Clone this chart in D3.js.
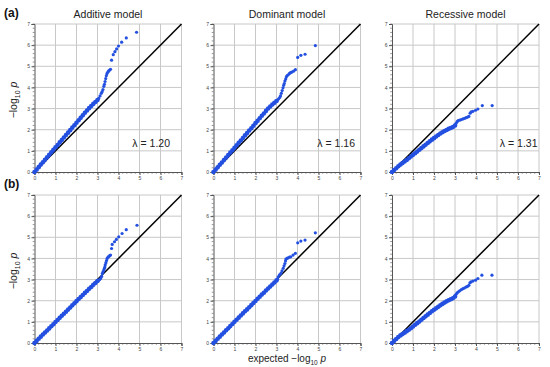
<!DOCTYPE html>
<html>
<head>
<meta charset="utf-8">
<script src="https://cdn.jsdelivr.net/npm/d3@7"></script>
<style>
  body { margin: 0; background: #fff; }
  svg { display: block; font-family: "Liberation Sans", Arial, sans-serif; }
</style>
</head>
<body>
<div id="grafico"></div>
<script>
// expected -log10 p for the dense body of each QQ plot
const bodyExpected = [0.0, 0.1, 0.2, 0.3, 0.4, 0.5, 0.6, 0.7, 0.8, 0.9, 1.0, 1.1, 1.2, 1.3, 1.4, 1.5,
  1.6, 1.7, 1.8, 1.9, 2.0, 2.1, 2.2, 2.3, 2.4, 2.5, 2.6, 2.7, 2.8, 2.9, 3.0];

// observed -log10 p, row (a)
const additiveA = [0.00, 0.11, 0.23, 0.35, 0.46, 0.58, 0.70, 0.81, 0.93, 1.05, 1.17, 1.28, 1.40, 1.51, 1.63, 1.75,
  1.86, 1.98, 2.10, 2.21, 2.33, 2.45, 2.56, 2.68, 2.80, 2.91, 3.02, 3.12, 3.22, 3.31, 3.40];
const dominantA = [0.00, 0.11, 0.22, 0.34, 0.45, 0.57, 0.68, 0.80, 0.92, 1.03, 1.15, 1.26, 1.38, 1.49, 1.61, 1.73,
  1.84, 1.96, 2.07, 2.19, 2.31, 2.42, 2.54, 2.66, 2.77, 2.89, 3.00, 3.10, 3.19, 3.27, 3.36];
const recessiveA = [0.00, 0.09, 0.18, 0.27, 0.35, 0.42, 0.50, 0.57, 0.65, 0.73, 0.81, 0.89, 0.97, 1.05, 1.13, 1.21,
  1.29, 1.37, 1.45, 1.53, 1.60, 1.68, 1.75, 1.82, 1.88, 1.94, 1.99, 2.04, 2.08, 2.13, 2.20];

// observed -log10 p, row (b)
const additiveB = [0.00, 0.10, 0.20, 0.30, 0.40, 0.50, 0.59, 0.69, 0.79, 0.89, 0.99, 1.09, 1.19, 1.29, 1.38, 1.48,
  1.58, 1.68, 1.78, 1.88, 1.98, 2.08, 2.17, 2.27, 2.37, 2.46, 2.56, 2.65, 2.75, 2.84, 2.93];
const dominantB = [0.00, 0.10, 0.20, 0.30, 0.40, 0.50, 0.60, 0.70, 0.80, 0.90, 1.00, 1.10, 1.20, 1.30, 1.40, 1.50,
  1.59, 1.69, 1.79, 1.89, 1.99, 2.09, 2.19, 2.29, 2.38, 2.48, 2.58, 2.67, 2.77, 2.86, 2.96];
const recessiveB = [0.00, 0.10, 0.19, 0.28, 0.36, 0.42, 0.49, 0.56, 0.63, 0.70, 0.78, 0.86, 0.94, 1.02, 1.10, 1.18,
  1.26, 1.34, 1.42, 1.50, 1.57, 1.64, 1.71, 1.78, 1.85, 1.91, 1.97, 2.02, 2.07, 2.12, 2.20];

// upper tails: [expected, observed]
const additiveATail = [[3.06, 3.48], [3.12, 3.60], [3.18, 3.72], [3.22, 3.80], [3.26, 3.90], [3.30, 4.05], [3.33, 4.15],
  [3.36, 4.28], [3.39, 4.42], [3.42, 4.55], [3.45, 4.65], [3.49, 4.72], [3.53, 4.78], [3.58, 4.82], [3.62, 4.86],
  [3.67, 5.29], [3.75, 5.55], [3.83, 5.69], [3.91, 5.82], [4.00, 5.96], [4.15, 6.14], [4.37, 6.34], [4.86, 6.61]];
const dominantATail = [[3.05, 3.40], [3.10, 3.46], [3.15, 3.52], [3.19, 3.60], [3.23, 3.72], [3.27, 3.85], [3.31, 3.98],
  [3.34, 4.10], [3.37, 4.18], [3.40, 4.30], [3.44, 4.40], [3.47, 4.50], [3.51, 4.56], [3.56, 4.60], [3.62, 4.66],
  [3.67, 4.70], [3.72, 4.72], [3.81, 4.77], [3.90, 4.84], [4.01, 5.42], [4.16, 5.52], [4.36, 5.57], [4.85, 5.98]];
const recessiveATail = [[3.05, 2.30], [3.10, 2.38], [3.15, 2.43], [3.22, 2.45], [3.30, 2.48], [3.38, 2.51], [3.46, 2.54],
  [3.53, 2.57], [3.60, 2.60], [3.66, 2.63], [3.72, 2.78], [3.77, 2.84], [3.85, 2.87], [3.98, 2.92], [4.09, 2.98],
  [4.30, 3.14], [4.77, 3.14]];
const additiveBTail = [[3.05, 2.97], [3.10, 3.00], [3.15, 3.05], [3.20, 3.15], [3.23, 3.29], [3.27, 3.38], [3.30, 3.45],
  [3.33, 3.53], [3.35, 3.60], [3.37, 3.70], [3.40, 3.80], [3.43, 3.90], [3.46, 4.00], [3.50, 4.06], [3.54, 4.09],
  [3.58, 4.13], [3.62, 4.16], [3.67, 4.47], [3.70, 4.66], [3.81, 4.79], [3.90, 4.90], [4.01, 5.02], [4.17, 5.18],
  [4.37, 5.36], [4.88, 5.57]];
const dominantBTail = [[3.05, 3.02], [3.08, 3.13], [3.14, 3.22], [3.21, 3.29], [3.26, 3.41], [3.32, 3.53], [3.36, 3.65],
  [3.40, 3.76], [3.43, 3.88], [3.45, 3.97], [3.50, 4.00], [3.55, 4.03], [3.62, 4.06], [3.68, 4.08], [3.79, 4.16],
  [3.90, 4.24], [4.01, 4.74], [4.16, 4.82], [4.36, 4.87], [4.85, 5.21]];
const recessiveBTail = [[3.05, 2.30], [3.10, 2.37], [3.16, 2.42], [3.22, 2.47], [3.30, 2.52], [3.38, 2.57], [3.46, 2.61],
  [3.54, 2.65], [3.60, 2.68], [3.66, 2.73], [3.71, 2.85], [3.76, 2.89], [3.85, 2.93], [3.98, 2.97], [4.09, 3.05],
  [4.28, 3.21], [4.76, 3.21]];

const modelTitles = ["Additive model", "Dominant model", "Recessive model"];
const rowLabels = ["(a)", "(b)"];
const lambdaLabels = ["λ = 1.20", "λ = 1.16", "λ = 1.31"];
const tickValues = [0, 1, 2, 3, 4, 5, 6, 7];

const width = 550;
const height = 367;
const plotW = 147;
const plotH = 148;
const colLeft = [34.5, 213.5, 392];
const rowTop = [24, 195];
const lambdaRight = [135.5, 141.5, 145.5];
const dotColor = "#2350e0";

const panels = [
  { row: 0, col: 0, body: additiveA, tail: additiveATail },
  { row: 0, col: 1, body: dominantA, tail: dominantATail },
  { row: 0, col: 2, body: recessiveA, tail: recessiveATail },
  { row: 1, col: 0, body: additiveB, tail: additiveBTail },
  { row: 1, col: 1, body: dominantB, tail: dominantBTail },
  { row: 1, col: 2, body: recessiveB, tail: recessiveBTail }
];

const svg = d3.select('#grafico')
  .append('svg')
  .attr('width', width)
  .attr('height', height);

const xScale = d3.scaleLinear().domain([0, 7]).range([0, plotW]);
const yScale = d3.scaleLinear().domain([0, 7]).range([plotH, 0]);
const minorTicks = d3.range(0, 7.01, 0.2);

panels.forEach(p => {
  const g = svg.append('g')
    .attr('transform', `translate(${colLeft[p.col]}, ${rowTop[p.row]})`);

  // grid
  g.append('g').selectAll('line')
    .data(tickValues.slice(1))
    .enter().append('line')
    .attr('x1', d => xScale(d)).attr('x2', d => xScale(d))
    .attr('y1', 0).attr('y2', plotH)
    .attr('stroke', '#c8c8c8').attr('stroke-width', 1);
  g.append('g').selectAll('line')
    .data(tickValues.slice(1))
    .enter().append('line')
    .attr('y1', d => yScale(d)).attr('y2', d => yScale(d))
    .attr('x1', 0).attr('x2', plotW)
    .attr('stroke', '#c8c8c8').attr('stroke-width', 1);

  // axes
  const xAxis = d3.axisBottom(xScale).tickValues(tickValues).tickFormat(d3.format('d')).tickSize(3).tickPadding(1.5);
  const yAxis = d3.axisLeft(yScale).tickValues(tickValues).tickFormat(d3.format('d')).tickSize(3).tickPadding(1.5);
  const gx = g.append('g').attr('transform', `translate(0, ${plotH})`).call(xAxis);
  const gy = g.append('g').call(yAxis);
  [gx, gy].forEach(a => {
    a.select('.domain').attr('stroke', '#555').attr('stroke-width', 1);
    a.selectAll('.tick line').attr('stroke', '#555');
    a.selectAll('.tick text').attr('font-size', 5).attr('fill', '#444')
      .attr('font-family', '"Liberation Sans", Arial, sans-serif');
  });
  gx.selectAll('.minor').data(minorTicks).enter().append('line')
    .attr('x1', d => xScale(d)).attr('x2', d => xScale(d))
    .attr('y1', 0).attr('y2', 1.8).attr('stroke', '#555').attr('stroke-width', 0.6);
  gy.selectAll('.minor').data(minorTicks).enter().append('line')
    .attr('y1', d => yScale(d)).attr('y2', d => yScale(d))
    .attr('x1', 0).attr('x2', -1.8).attr('stroke', '#555').attr('stroke-width', 0.6);

  // null line
  g.append('line')
    .attr('x1', xScale(0)).attr('y1', yScale(0))
    .attr('x2', xScale(7)).attr('y2', yScale(7))
    .attr('stroke', '#000').attr('stroke-width', 1.5);

  // points
  const pts = p.body.map((v, i) => [bodyExpected[i], v]).concat(p.tail);
  g.append('g').selectAll('circle')
    .data(pts)
    .enter().append('circle')
    .attr('cx', d => xScale(d[0]))
    .attr('cy', d => yScale(d[1]))
    .attr('r', (d, i) => i < p.body.length ? 2.3 : 1.6)
    .attr('fill', dotColor);

  if (p.row === 0) {
    g.append('text')
      .attr('x', plotW / 2).attr('y', -6)
      .attr('text-anchor', 'middle')
      .attr('font-size', 10.5).attr('fill', '#222')
      .text(modelTitles[p.col]);
    g.append('text')
      .attr('x', lambdaRight[p.col]).attr('y', yScale(1.18))
      .attr('text-anchor', 'end')
      .attr('font-size', 10.5).attr('fill', '#222')
      .text(lambdaLabels[p.col]);
  }
});

// row labels
rowLabels.forEach((t, i) => {
  svg.append('text')
    .attr('x', 4).attr('y', rowTop[i] - 7)
    .attr('font-size', 12).attr('font-weight', 'bold').attr('fill', '#111')
    .text(t);
});

// y axis titles
rowTop.forEach(top => {
  const t = svg.append('text')
    .attr('transform', `translate(17, ${top + plotH / 2 + 2}) rotate(-90)`)
    .attr('text-anchor', 'middle')
    .attr('font-size', 10.5).attr('fill', '#222');
  t.append('tspan').text('−log');
  t.append('tspan').attr('font-size', 7).attr('dy', 3).text('10');
  t.append('tspan').attr('dy', -3).text(' ');
  t.append('tspan').attr('font-style', 'italic').text('p');
});

// x axis title
const xt = svg.append('text')
  .attr('x', colLeft[1] + plotW / 2).attr('y', 362)
  .attr('text-anchor', 'middle')
  .attr('font-size', 10).attr('fill', '#222');
xt.append('tspan').text('expected −log');
xt.append('tspan').attr('font-size', 6.5).attr('dy', 2.5).text('10');
xt.append('tspan').attr('dy', -2.5).text(' ');
xt.append('tspan').attr('font-style', 'italic').text('p');
</script>
</body>
</html>
